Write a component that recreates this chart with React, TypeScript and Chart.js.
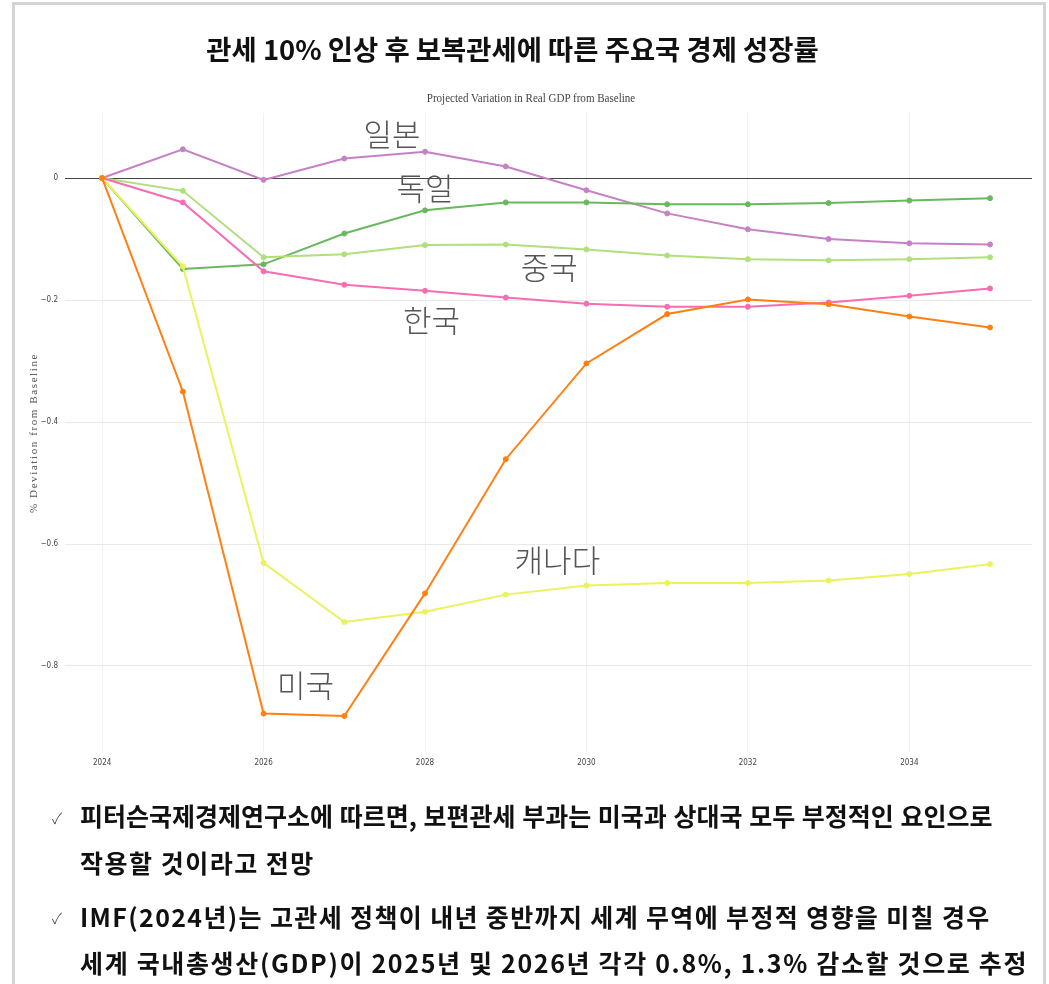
import React, { useEffect, useRef } from "react";
import { Chart, registerables } from "chart.js";

Chart.register(...registerables);

const years = [2024, 2025, 2026, 2027, 2028, 2029, 2030, 2031, 2032, 2033, 2034, 2035];
const usa = [0, -0.35, -0.878, -0.882, -0.681, -0.461, -0.304, -0.223, -0.199, -0.207, -0.227, -0.245];
const canada = [0, -0.145, -0.631, -0.728, -0.711, -0.683, -0.668, -0.664, -0.664, -0.66, -0.649, -0.633];
const korea = [0, -0.04, -0.153, -0.175, -0.185, -0.196, -0.206, -0.211, -0.211, -0.204, -0.193, -0.181];
const china = [0, -0.021, -0.13, -0.125, -0.11, -0.109, -0.117, -0.127, -0.133, -0.135, -0.133, -0.13];
const germany = [0, -0.149, -0.1415, -0.091, -0.053, -0.04, -0.04, -0.043, -0.043, -0.041, -0.037, -0.033];
const japan = [0, 0.047, -0.003, 0.032, 0.043, 0.019, -0.02, -0.058, -0.084, -0.1, -0.107, -0.109];

const seriesNames = ["미국", "캐나다", "한국", "중국", "독일", "일본"];
const seriesValues = [usa, canada, korea, china, germany, japan];
const seriesColors = ["#ff8012", "#eaf25c", "#f76cb2", "#b0df7c", "#68b95e", "#c681c6"];

// annotation labels placed in data coordinates
const labelNames = ["일본", "독일", "중국", "한국", "캐나다", "미국"];
const labelYears = [2027.59, 2028.0, 2029.54, 2028.08, 2029.64, 2026.52];
const labelValues = [0.072, -0.016, -0.146, -0.233, -0.626, -0.831];

const xTicks = [2024, 2026, 2028, 2030, 2032, 2034];
const yTicks = [0, -0.2, -0.4, -0.6, -0.8];

const titleText = "관세 10% 인상 후 보복관세에 따른 주요국 경제 성장률";
const subtitleText = "Projected Variation in Real GDP from Baseline";
const yAxisTitle = "% Deviation from Baseline";
const bulletLines = [
  ["피터슨국제경제연구소에 따르면, 보편관세 부과는 미국과 상대국 모두 부정적인 요인으로", "작용할 것이라고 전망"],
  ["IMF(2024년)는 고관세 정책이 내년 중반까지 세계 무역에 부정적 영향을 미칠 경우", "세계 국내총생산(GDP)이 2025년 및 2026년 각각 0.8%, 1.3% 감소할 것으로 추정"],
];

const labelPlugin = {
  id: "seriesLabels",
  afterDatasetsDraw(chart: any) {
    const { ctx, scales } = chart;
    ctx.save();
    ctx.font = '300 31px "Noto Sans CJK KR"';
    ctx.fillStyle = "#555555";
    ctx.textAlign = "center";
    ctx.textBaseline = "middle";
    labelNames.forEach((n, i) => {
      ctx.fillText(n, scales.x.getPixelForValue(labelYears[i]), scales.y.getPixelForValue(labelValues[i]));
    });
    ctx.restore();
  },
};

export default function App() {
  const ref = useRef<HTMLCanvasElement>(null);
  useEffect(() => {
    if (!ref.current) return;
    const chart = new Chart(ref.current, {
      type: "line",
      data: {
        datasets: seriesNames.map((name, i) => ({
          label: name,
          data: years.map((y, j) => ({ x: y, y: seriesValues[i][j] })),
          borderColor: seriesColors[i],
          backgroundColor: seriesColors[i],
          pointBackgroundColor: seriesColors[i],
          pointBorderColor: seriesColors[i],
          borderWidth: 2,
          pointRadius: 2.5,
          pointBorderWidth: 1,
          tension: 0,
          fill: false,
        })),
      },
      options: {
        animation: false,
        responsive: false,
        maintainAspectRatio: false,
        layout: { padding: { left: 0, top: 113, right: 17, bottom: 207 } },
        plugins: { legend: { display: false }, tooltip: { enabled: false }, title: { display: false } },
        scales: {
          x: {
            type: "linear",
            min: 2023.54,
            max: 2035.52,
            afterBuildTicks: (s: any) => {
              s.ticks = xTicks.map((v) => ({ value: v }));
            },
            afterFit: (s: any) => {
              s.height = 25;
            },
            grid: { color: "#f2f2f2", drawTicks: false, lineWidth: 1 },
            border: { display: false },
            ticks: {
              padding: 6,
              maxRotation: 0,
              autoSkip: false,
              color: "#444",
              font: { family: '"Liberation Sans Narrow", "DejaVu Sans Condensed", sans-serif', size: 8 },
              callback: (v: any) => String(v),
            },
          },
          y: {
            type: "linear",
            min: -0.941,
            max: 0.1066,
            afterBuildTicks: (s: any) => {
              s.ticks = yTicks.map((v) => ({ value: v }));
            },
            afterFit: (s: any) => {
              s.width = 65;
            },
            grid: {
              color: (c: any) => (c.tick && c.tick.value === 0 ? "#444444" : "#e9e9e9"),
              drawTicks: false,
              lineWidth: 1,
            },
            border: { display: false },
            ticks: {
              padding: 7,
              color: "#444",
              font: { family: '"Liberation Sans Narrow", "DejaVu Sans Condensed", sans-serif', size: 8 },
              callback: (v: any) => (v === 0 ? "0" : "\u2212" + Math.abs(Number(v)).toFixed(1)),
            },
          },
        },
      },
      plugins: [labelPlugin],
    });
    return () => chart.destroy();
  }, []);

  const lineTops = [[799, 846], [900, 946]];
  const wordSpacings = [[1, 0], [0, 0]];
  const letterSpacings = [[0, 1.5], [1.35, 1.65]];

  return (
    <div
      style={{
        position: "absolute",
        left: 0,
        top: 0,
        width: 1049,
        height: 984,
        overflow: "hidden",
        background: "#fff",
        fontFamily: '"Noto Sans CJK KR", sans-serif',
      }}
    >
      <div
        style={{
          position: "absolute",
          left: 12,
          top: 2,
          width: 1028,
          height: 1100,
          border: "3px solid #d4d4d4",
        }}
      />
      <canvas ref={ref} width={1049} height={984} style={{ position: "absolute", left: 0, top: 0, width: 1049, height: 984 }} />
      <div
        style={{
          position: "absolute",
          left: 0,
          width: 1025,
          top: 30,
          textAlign: "center",
          fontSize: 27.4,
          fontWeight: 700,
          lineHeight: "36px",
          color: "#111",
        }}
      >
        {titleText}
      </div>
      <div
        style={{
          position: "absolute",
          left: 0,
          width: 1062,
          top: 90,
          textAlign: "center",
          fontFamily: '"Liberation Serif", serif',
          fontSize: 12,
          lineHeight: "16px",
          color: "#444",
          transform: "scaleX(0.92)",
        }}
      >
        {subtitleText}
      </div>
      <div
        style={{
          position: "absolute",
          left: 33,
          top: 433,
          width: 0,
          height: 0,
        }}
      >
        <div
          style={{
            position: "absolute",
            left: -120,
            top: -8,
            width: 240,
            textAlign: "center",
            fontFamily: '"Liberation Serif", serif',
            fontSize: 11,
            lineHeight: "16px",
            letterSpacing: 1.6,
            color: "#555",
            transform: "rotate(-90deg)",
            whiteSpace: "nowrap",
          }}
        >
          {yAxisTitle}
        </div>
      </div>
      {bulletLines.map((lines, bi) => (
        <React.Fragment key={bi}>
          <div
            style={{
              position: "absolute",
              left: 52,
              top: [806, 906][bi],
              fontSize: 15,
              lineHeight: "24px",
              color: "#333",
              fontWeight: 300,
            }}
          >
            {"\u2713"}
          </div>
          {lines.map((ln, li) => (
            <div
              key={li}
              style={{
                position: "absolute",
                left: 80,
                top: lineTops[bi][li],
                fontSize: 25,
                fontWeight: 700,
                lineHeight: "32px",
                letterSpacing: letterSpacings[bi][li],
                wordSpacing: wordSpacings[bi][li],
                color: "#111",
                whiteSpace: "nowrap",
              }}
            >
              {ln}
            </div>
          ))}
        </React.Fragment>
      ))}
    </div>
  );
}
